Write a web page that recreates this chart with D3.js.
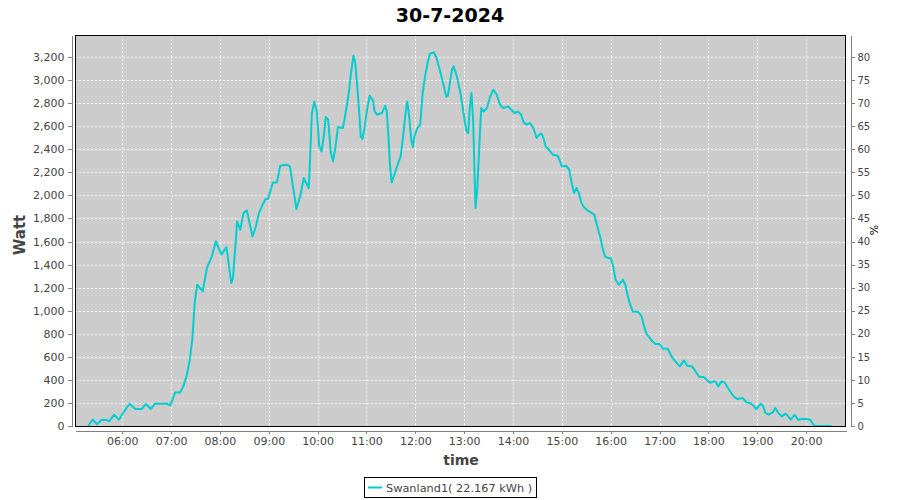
<!DOCTYPE html>
<html>
<head>
<meta charset="utf-8">
<script src="https://cdn.jsdelivr.net/npm/d3@7"></script>
<style>
  html, body { margin: 0; padding: 0; background: #ffffff; }
  svg { display: block; }
</style>
</head>
<body>
<svg id="chart" width="900" height="500"></svg>
<script>
// ---------------- DATA ----------------
const chartTitle = "30-7-2024";
const seriesName = "Swanland1( 22.167 kWh )";
const dateStr = "2024-07-30";
const xRange = ["05:02", "20:49"];
const wattMax = 3391;
const wattTicks = [0, 200, 400, 600, 800, 1000, 1200, 1400, 1600, 1800, 2000, 2200, 2400, 2600, 2800, 3000, 3200];
const pctTicks = [0, 5, 10, 15, 20, 25, 30, 35, 40, 45, 50, 55, 60, 65, 70, 75, 80];
const hourTicks = ["06:00","07:00","08:00","09:00","10:00","11:00","12:00","13:00","14:00","15:00","16:00","17:00","18:00","19:00","20:00"];

const times = [
"05:18","05:24","05:29","05:35","05:41","05:44","05:50","05:56","06:01","06:09",
"06:16","06:24","06:29","06:35","06:40","06:48","06:55","06:59","07:05","07:11",
"07:15","07:19","07:23","07:26","07:29","07:32","07:39","07:44","07:50","07:55",
"08:02","08:08","08:14","08:16","08:20","08:21","08:25","08:29","08:33","08:40",
"08:44","08:48","08:53","08:56","08:59","09:05","09:10","09:14","09:22","09:26",
"09:30","09:34","09:39","09:43","09:46","09:49","09:50","09:53","09:56","09:59",
"10:02","10:05","10:08","10:10","10:13","10:16","10:19","10:22","10:25","10:31",
"10:33","10:38","10:41","10:44","10:46","10:48","10:51","10:53","10:55","10:58",
"11:01","11:04","11:08","11:10","11:13","11:19","11:23","11:25","11:27","11:29",
"11:31","11:35","11:39","11:42","11:45","11:48","11:50","11:52","11:55","11:57",
"11:59","12:02","12:06","12:09","12:12","12:15","12:18","12:23","12:26","12:30",
"12:34","12:38","12:40","12:45","12:47","12:51","12:55","12:58","13:01","13:03",
"13:05","13:07","13:09","13:11","13:13","13:14","13:16","13:18","13:20","13:21",
"13:24","13:28","13:32","13:36","13:40","13:44","13:48","13:54","13:58","14:02",
"14:06","14:10","14:13","14:17","14:21","14:25","14:29","14:32","14:35","14:38",
"14:40","14:44","14:49","14:55","15:00","15:05","15:09","15:12","15:15","15:18",
"15:21","15:24","15:28","15:32","15:38","15:40","15:43","15:47","15:50","15:53",
"15:57","16:00","16:03","16:06","16:10","16:15","16:18","16:21","16:24","16:27",
"16:34","16:38","16:41","16:44","16:48","16:51","16:55","17:00","17:04","17:10",
"17:15","17:20","17:25","17:30","17:34","17:40","17:45","17:49","17:54","17:58",
"18:02","18:06","18:09","18:12","18:16","18:20","18:24","18:28","18:32","18:36",
"18:42","18:47","18:51","18:54","18:59","19:04","19:07","19:10","19:14","19:19",
"19:22","19:26","19:30","19:35","19:38","19:41","19:46","19:50","19:54","20:00",
"20:05","20:09","20:11","20:31"
];
const watts = [
0,55,15,55,52,40,98,55,113,193,
147,147,193,147,193,193,193,179,291,291,
343,430,575,748,1067,1225,1167,1370,1471,1601,
1486,1552,1240,1283,1650,1774,1702,1847,1870,1644,
1726,1847,1928,1968,1968,2112,2112,2257,2266,2251,
2064,1882,2006,2151,2107,2064,2194,2714,2815,2728,
2425,2381,2541,2680,2656,2381,2295,2425,2593,2584,
2656,2873,3061,3211,3162,3003,2728,2511,2489,2598,
2758,2864,2824,2728,2700,2714,2778,2728,2511,2251,
2112,2194,2281,2338,2511,2714,2815,2714,2483,2419,
2511,2576,2613,2888,3032,3148,3229,3240,3191,3090,
2974,2858,2864,3090,3119,3032,2902,2771,2628,2555,
2541,2771,2888,2656,2136,1890,2049,2338,2628,2758,
2728,2758,2858,2916,2873,2786,2758,2771,2743,2714,
2728,2700,2633,2613,2628,2584,2498,2526,2535,2483,
2425,2396,2353,2344,2251,2257,2223,2107,2020,2064,
2020,1934,1890,1867,1841,1832,1746,1644,1544,1471,
1457,1457,1384,1269,1225,1269,1225,1124,1052,994,
988,950,864,800,763,734,711,711,670,670,
600,555,517,569,523,517,465,425,425,401,
375,387,387,343,387,378,329,286,251,234,
243,205,199,185,147,193,176,113,98,118,
156,113,83,107,83,55,98,55,61,61,
55,11,0,0
];

// ---------------- LAYOUT ----------------
const W = 900, H = 500;
const plot = { left: 75, top: 35, right: 846, bottom: 426 };
const svg = d3.select("#chart");
const parseT = d3.timeParse("%Y-%m-%d %H:%M");
const toDate = s => parseT(dateStr + " " + s);

const x = d3.scaleTime()
  .domain(xRange.map(toDate))
  .range([plot.left, plot.right]);
const y = d3.scaleLinear().domain([0, wattMax]).range([plot.bottom, plot.top]);
const yPct = d3.scaleLinear().domain([0, wattMax / 40]).range([plot.bottom, plot.top]);

const data = times.map((t, i) => ({ t: toDate(t), v: watts[i] }));

// background plot
svg.append("rect")
  .attr("x", plot.left).attr("y", plot.top)
  .attr("width", plot.right - plot.left).attr("height", plot.bottom - plot.top)
  .attr("fill", "#cccccc");

// grid
const grid = svg.append("g").attr("stroke", "#ffffff").attr("stroke-width", 1)
  .attr("stroke-dasharray", "2,2").attr("shape-rendering", "crispEdges");
grid.selectAll("line.v").data(hourTicks.map(toDate)).enter().append("line")
  .attr("x1", d => Math.round(x(d)) + 0.5).attr("x2", d => Math.round(x(d)) + 0.5)
  .attr("y1", plot.top).attr("y2", plot.bottom);
grid.selectAll("line.h").data(wattTicks.filter(d => d > 0)).enter().append("line")
  .attr("y1", d => Math.round(y(d)) + 0.5).attr("y2", d => Math.round(y(d)) + 0.5)
  .attr("x1", plot.left).attr("x2", plot.right);

// line
const line = d3.line().x(d => x(d.t)).y(d => y(d.v));
svg.append("path").datum(data)
  .attr("fill", "none").attr("stroke", "#00ced1").attr("stroke-width", 2)
  .attr("stroke-linejoin", "round")
  .attr("d", line);

// plot border
svg.append("rect")
  .attr("x", plot.left + 0.5).attr("y", plot.top + 0.5)
  .attr("width", plot.right - plot.left - 1).attr("height", plot.bottom - plot.top)
  .attr("fill", "none").attr("stroke", "#000000").attr("stroke-width", 1)
  .attr("shape-rendering", "crispEdges");

// axes
const tickFont = "DejaVu Sans, sans-serif";
function styleAxis(g, fs) {
  g.selectAll("path.domain").attr("stroke", "#808080").attr("shape-rendering", "crispEdges");
  g.selectAll(".tick line").attr("stroke", "#808080").attr("shape-rendering", "crispEdges");
  g.selectAll(".tick text").attr("fill", "#444444").attr("font-family", tickFont).attr("font-size", fs);
}

const gl = svg.append("g").attr("transform", "translate(71.5,0)")
  .call(d3.axisLeft(y).tickValues(wattTicks).tickFormat(d3.format(",")).tickSize(4).tickSizeOuter(0).tickPadding(3));
styleAxis(gl, 11);

const gr = svg.append("g").attr("transform", "translate(850.5,0)")
  .call(d3.axisRight(yPct).tickValues(pctTicks).tickFormat(d3.format("d")).tickSize(4).tickSizeOuter(0).tickPadding(3));
styleAxis(gr, 10);

const gb = svg.append("g").attr("transform", "translate(0,430.5)")
  .call(d3.axisBottom(x).tickValues(hourTicks.map(toDate)).tickFormat(d3.timeFormat("%H:%M")).tickSize(3).tickSizeOuter(0).tickPadding(4));
styleAxis(gb, 11);

// titles
svg.append("text").attr("x", 450).attr("y", 22).attr("text-anchor", "middle")
  .attr("font-family", "DejaVu Sans, sans-serif").attr("font-weight", "bold").attr("font-size", 19)
  .attr("fill", "#000").text(chartTitle);

svg.append("text").attr("transform", "translate(25,235) rotate(-90)").attr("text-anchor", "middle")
  .attr("font-family", "DejaVu Sans, sans-serif").attr("font-weight", "bold").attr("font-size", 15)
  .attr("fill", "#444444").text("Watt");

svg.append("text").attr("x", 461).attr("y", 465).attr("text-anchor", "middle")
  .attr("font-family", "DejaVu Sans, sans-serif").attr("font-weight", "bold").attr("font-size", 14)
  .attr("fill", "#444444").text("time");

svg.append("text").attr("transform", "translate(878,230) rotate(-90)").attr("text-anchor", "middle")
  .attr("font-family", "DejaVu Sans, sans-serif").attr("font-size", 11)
  .attr("fill", "#000").text("%");

// legend
const lg = svg.append("g");
const lt = lg.append("text").attr("x", 0).attr("y", 0)
  .attr("font-family", "DejaVu Sans, sans-serif").attr("font-size", 11.3)
  .attr("fill", "#444444").text(seriesName);
const tw = lt.node().getComputedTextLength();
const boxW = Math.round(tw + 26), boxH = 20;
const bx = Math.round(450 - boxW / 2), by = 477;
lg.insert("rect", "text").attr("x", bx + 0.5).attr("y", by + 0.5).attr("width", boxW).attr("height", boxH)
  .attr("fill", "#fff").attr("stroke", "#000").attr("shape-rendering", "crispEdges");
lg.append("line").attr("x1", bx + 4).attr("x2", bx + 18).attr("y1", by + 10.5).attr("y2", by + 10.5)
  .attr("stroke", "#00ced1").attr("stroke-width", 2);
lt.attr("x", bx + 22).attr("y", by + 14.5);
</script>
</body>
</html>
